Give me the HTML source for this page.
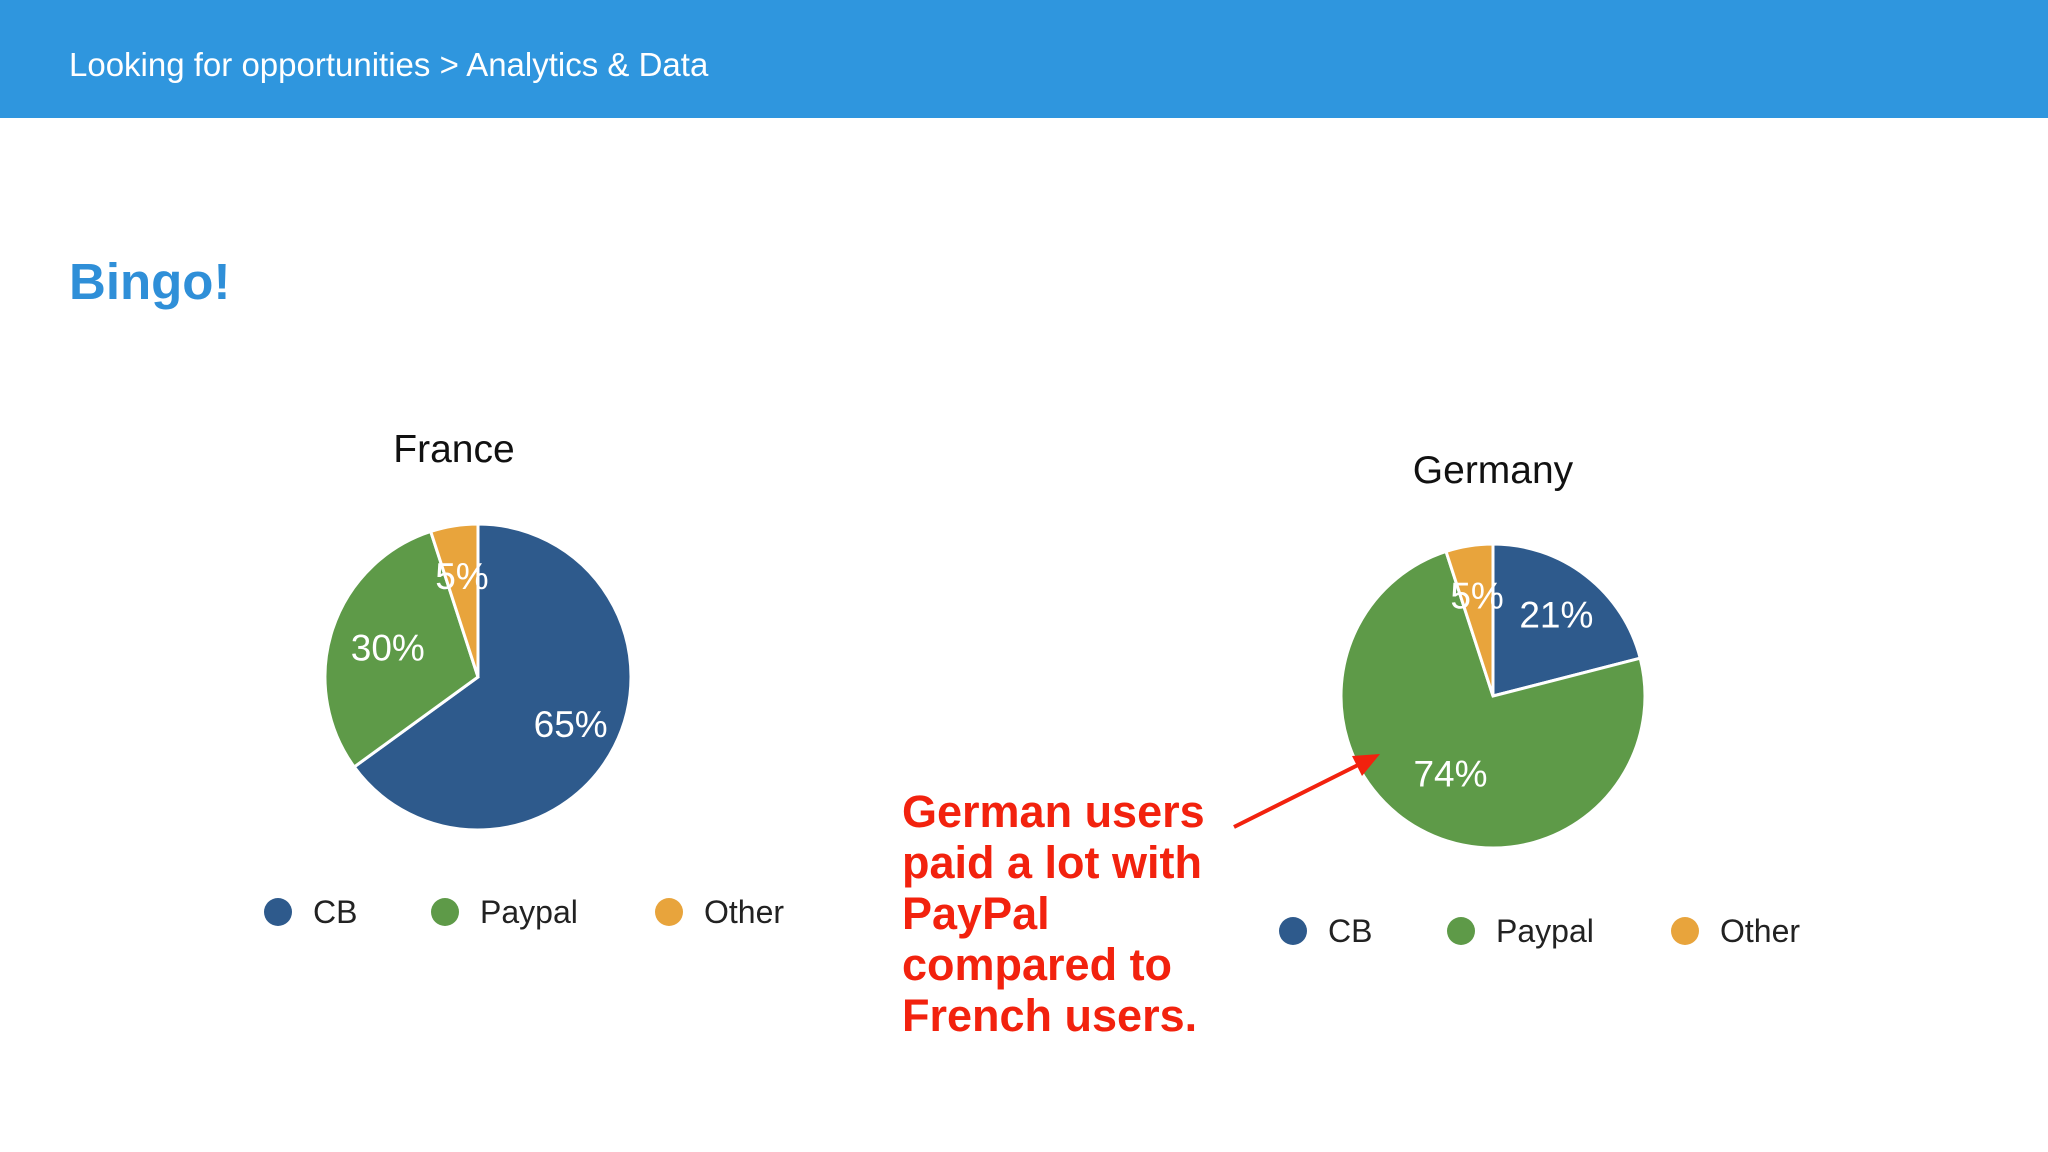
<!DOCTYPE html>
<html><head><meta charset="utf-8"><style>
body{margin:0;width:2048px;height:1152px;background:#fff;overflow:hidden;font-family:"Liberation Sans",sans-serif}
#hdr{position:absolute;left:0;top:0;width:2048px;height:118px;background:#2f96de}
#hdr span{position:absolute;left:69px;top:46px;font-size:33px;color:#fff}
#bingo{position:absolute;left:69px;top:252px;font-size:51px;font-weight:bold;color:#2f8fd8}
#note{position:absolute;left:902px;top:786px;font-size:45px;font-weight:bold;color:#f2220e;line-height:51px}
</style></head><body>
<div id="hdr"><span>Looking for opportunities &gt; Analytics &amp; Data</span></div>
<div id="bingo">Bingo!</div>
<div id="note">German users<br>paid a lot with<br>PayPal<br>compared to<br>French users.</div>
<svg id="svg" width="2048" height="1152" style="position:absolute;left:0;top:0">
<g id="arrow">
<line x1="1234" y1="827" x2="1360" y2="764" stroke="#f2220e" stroke-width="4"/>
<polygon points="1380,754 1352,756 1362,776" fill="#f2220e"/>
</g>
</svg>
<script>
const categories=["CB","Paypal","Other"];
const franceValues=[65,30,5];
const germanyValues=[21,74,5];
const colors=["#2e5a8c","#5e9a48","#e8a43c"];
const svg=document.getElementById('svg');
const NS="http://www.w3.org/2000/svg";
function mk(t,a){const e=document.createElementNS(NS,t);for(const k in a)e.setAttribute(k,a[k]);svg.appendChild(e);return e;}
function pie(name,title,vals,cx,cy,r,tx,ty,labelPos,legY,legX){
  const tt=mk('text',{x:tx,y:ty,'font-size':39,'text-anchor':'middle',fill:'#111'});tt.textContent=title;
  
  
  const tot=vals.reduce((a,b)=>a+b,0);let a0=0;
  vals.forEach((v,i)=>{
    const a1=a0+v/tot*2*Math.PI;
    const p=(a)=>[cx+r*Math.sin(a),cy-r*Math.cos(a)];
    const [x0,y0]=p(a0),[x1,y1]=p(a1);
    const large=(a1-a0)>Math.PI?1:0;
    const s=mk('path',{d:`M${cx},${cy} L${x0},${y0} A${r},${r} 0 ${large} 1 ${x1},${y1} Z`,fill:colors[i],stroke:'#fff','stroke-width':3});
    
    
    const am=(a0+a1)/2;const lr=labelPos[i]*r;
    const t=mk('text',{x:cx+lr*Math.sin(am),y:cy-lr*Math.cos(am)+13,'font-size':37,'text-anchor':'middle',fill:'#fff'});
    t.textContent=v+'%';
    
    
    a0=a1;
  });
  categories.forEach((c,i)=>{
    const d=mk('circle',{cx:legX[i],cy:legY,r:14,fill:colors[i]});
    
    
    const t=mk('text',{x:legX[i]+35,y:legY+11,'font-size':32,fill:'#222'});t.textContent=c;
    
    
  });
}
pie('france','France',franceValues,478,677,153,454,462,[0.68,0.62,0.67],912,[278,445,669]);
pie('germany','Germany',germanyValues,1493,696,152,1493,483,[0.68,0.58,0.67],931,[1293,1461,1685]);
svg.appendChild(document.getElementById('arrow'));
</script>
</body></html>
